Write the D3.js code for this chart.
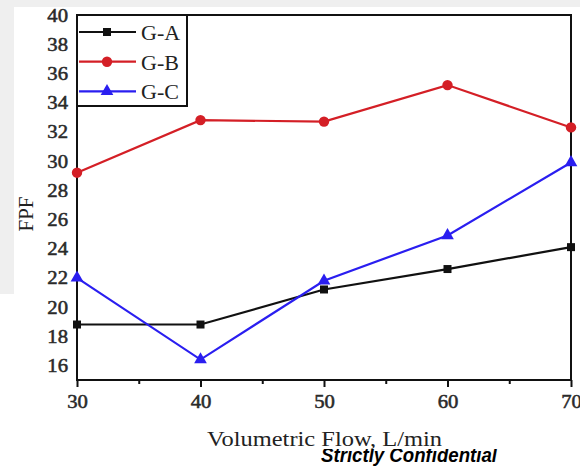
<!DOCTYPE html>
<html>
<head>
<meta charset="utf-8">
<script src="https://cdn.jsdelivr.net/npm/d3@7"></script>
<style>
	body { margin: 0; background: #fff; }
	svg { display: block; }
</style>
</head>
<body>
<script>
const width = 580
const height = 468
const margin = { top: 15, right: 9, bottom: 88, left: 77 }
const innerWidth = width - margin.left - margin.right
const innerHeight = height - margin.top - margin.bottom

const flows = [30, 40, 50, 60, 70]
const gA = [18.8, 18.8, 21.2, 22.6, 24.1]
const gB = [29.2, 32.8, 32.7, 35.2, 32.3]
const gC = [22.0, 16.4, 21.8, 24.9, 29.9]
const yTicks = [16, 18, 20, 22, 24, 26, 28, 30, 32, 34, 36, 38, 40]
const xTicks = [30, 40, 50, 60, 70]

const series = [
	{ name: 'G-A', values: gA, color: '#111', symbol: d3.symbolSquare, size: 64 },
	{ name: 'G-B', values: gB, color: '#d41f26', symbol: d3.symbolCircle, size: 85 },
	{ name: 'G-C', values: gC, color: '#2a1ef0', symbol: d3.symbolTriangle, size: 70 }
]

const font = 'Liberation Serif, Times New Roman, serif'

const svg = d3.select('body')
	.append('svg')
	.attr('width', width)
	.attr('height', height)

// grey scan borders
svg.append('rect').attr('x', 0).attr('y', 0).attr('width', width).attr('height', 7).attr('fill', '#efefef')
svg.append('rect').attr('x', 0).attr('y', 0).attr('width', 14).attr('height', 294).attr('fill', '#efefef')

const xScale = d3.scaleLinear()
	.domain([30, 70])
	.range([0, innerWidth])

const yScale = d3.scaleLinear()
	.domain([15, 40])
	.range([innerHeight, 0])

const g = svg.append('g')
	.attr('transform', `translate(${margin.left},${margin.top})`)

// x axis
const xg = g.append('g')
	.attr('transform', `translate(0,${innerHeight})`)
	.call(d3.axisBottom(xScale).tickValues(xTicks).tickSize(7).tickFormat(d3.format('d')))
xg.attr('font-family', null)
xg.select('.domain').remove()
xg.selectAll('line').attr('stroke', '#111').attr('stroke-width', 2)
xg.selectAll('text')
	.style('font-family', font)
	.style('font-size', '18px')
	.attr('fill', '#2a2a2a')
	.attr('stroke', '#2a2a2a')
	.attr('stroke-width', 0.5)
	.attr('y', 0)
	.attr('dy', 0)
	.attr('transform', 'translate(0,28) scale(1.15,1)')

g.append('g')
	.attr('transform', `translate(0,${innerHeight})`)
	.call(d3.axisBottom(xScale).tickValues([35, 45, 55, 65]).tickSize(4).tickFormat(''))
	.call(a => a.select('.domain').remove())
	.selectAll('line').attr('stroke', '#111').attr('stroke-width', 2)

// y axis
const yg = g.append('g')
	.call(d3.axisLeft(yScale).tickValues(yTicks).tickSize(0).tickPadding(0))
yg.attr('font-family', null)
yg.select('.domain').remove()
yg.selectAll('text')
	.style('font-family', font)
	.style('font-size', '18px')
	.attr('fill', '#2a2a2a')
	.attr('stroke', '#2a2a2a')
	.attr('stroke-width', 0.5)
	.attr('x', 0)
	.attr('dy', '0.34em')
	.attr('transform', 'translate(-9,0) scale(1.15,1)')

// frame
g.append('rect')
	.attr('width', innerWidth)
	.attr('height', innerHeight)
	.attr('fill', 'none')
	.attr('stroke', '#111')
	.attr('stroke-width', 2)

const line = vals => d3.line()
	.x((d, i) => xScale(flows[i]))
	.y(d => yScale(d))(vals)

const plot = g.append('g')

series.forEach(s => {
	plot.append('path')
		.attr('d', line(s.values))
		.attr('fill', 'none')
		.attr('stroke', s.color)
		.attr('stroke-width', 2.2)

	plot.selectAll(null)
		.data(s.values)
		.enter()
		.append('path')
		.attr('d', d3.symbol().type(s.symbol).size(s.size))
		.attr('transform', (d, i) => `translate(${xScale(flows[i])},${yScale(d)})`)
		.attr('fill', s.color)
})

// legend
const legend = g.append('g')
legend.append('rect')
	.attr('x', 0)
	.attr('y', 0)
	.attr('width', 110)
	.attr('height', 91)
	.attr('fill', '#fff')
	.attr('stroke', '#111')
	.attr('stroke-width', 2)

const item = legend.selectAll('.legend')
	.data(series)
	.enter()
	.append('g')
	.attr('class', 'legend')
	.attr('transform', (d, i) => `translate(0,${17 + i * 29.7})`)

item.append('line')
	.attr('x1', 2)
	.attr('x2', 59)
	.attr('stroke', d => d.color)
	.attr('stroke-width', 2.2)

item.append('path')
	.attr('d', d => d3.symbol().type(d.symbol).size(d.size)())
	.attr('transform', 'translate(30,0)')
	.attr('fill', d => d.color)

item.append('text')
	.attr('x', 64)
	.attr('y', 8)
	.style('font-family', font)
	.style('font-size', '22px')
	.attr('fill', '#222')
	.text(d => d.name)

// axis titles
svg.append('text')
	.attr('x', 207)
	.attr('y', 446)
	.style('font-family', font)
	.style('font-size', '21px')
	.attr('textLength', 235)
	.attr('lengthAdjust', 'spacingAndGlyphs')
	.attr('fill', '#222')
	.text('Volumetric Flow, L/min')

svg.append('text')
	.attr('transform', 'translate(33,214) rotate(-90)')
	.attr('text-anchor', 'middle')
	.style('font-family', font)
	.style('font-size', '21px')
	.attr('fill', '#222')
	.text('FPF')

// watermark, top half hidden
svg.append('clipPath').attr('id', 'wm')
	.append('rect')
	.attr('x', 300).attr('y', 449).attr('width', 220).attr('height', 20)

svg.append('text')
	.attr('clip-path', 'url(#wm)')
	.attr('x', 321)
	.attr('y', 462)
	.style('font-family', 'Liberation Sans, Arial, sans-serif')
	.style('font-size', '21px')
	.style('font-weight', 'bold')
	.style('font-style', 'italic')
	.attr('textLength', 176)
	.attr('lengthAdjust', 'spacingAndGlyphs')
	.attr('fill', '#000')
	.text('Strictly Confidential')
</script>
</body>
</html>
